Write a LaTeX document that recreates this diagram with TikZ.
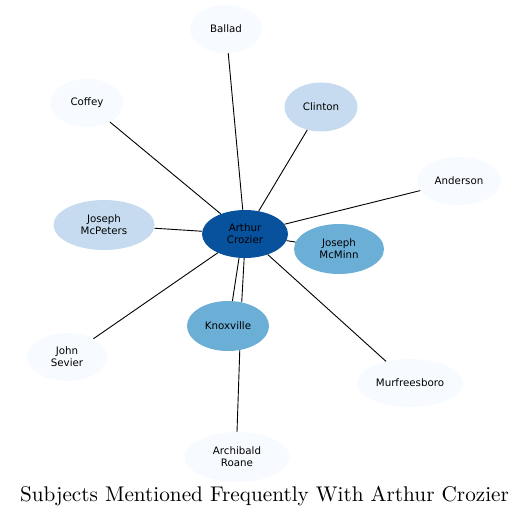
\documentclass[tikz,border=0pt]{standalone}
\usepackage{fontspec}
\usepackage{tikz}
\usetikzlibrary{shapes.geometric}
\newfontfamily\labelfont{DejaVu Sans}
\newfontfamily\titlefont{lmroman10-regular.otf}
\definecolor{paleblue}{HTML}{F7FBFF}
\definecolor{lightblue}{HTML}{C6DBEF}
\definecolor{midblue}{HTML}{6BAED6}
\definecolor{darkblue}{HTML}{08519C}

\begin{document}
\begin{tikzpicture}[x=1bp,y=-1bp,
    subject/.style={ellipse, inner sep=0pt, align=center,
      font=\labelfont\fontsize{10.3}{12}\selectfont},
    link/.style={line width=0.9bp}]
                    \useasboundingbox (0,0) rectangle (529,518);
                    % the subjects
                    \node[subject, fill=darkblue, minimum width=86bp, minimum height=48bp] (crozier) at (245,234) {Arthur\\Crozier};
                    \node[subject, fill=paleblue, minimum width=72bp, minimum height=48bp] (ballad) at (226,29) {Ballad};
                    \node[subject, fill=paleblue, minimum width=73bp, minimum height=48bp] (coffey) at (87,103) {Coffey};
                    \node[subject, fill=lightblue, minimum width=73bp, minimum height=49bp] (clinton) at (321,107) {Clinton};
                    \node[subject, fill=paleblue, minimum width=84bp, minimum height=48bp] (anderson) at (459,181) {Anderson};
                    \node[subject, fill=lightblue, minimum width=101bp, minimum height=50bp] (mcpeters) at (104,225) {Joseph\\McPeters};
                    \node[subject, fill=midblue, minimum width=90bp, minimum height=50bp] (mcminn) at (339,249) {Joseph\\McMinn};
                    \node[subject, fill=midblue, minimum width=82bp, minimum height=50bp] (knoxville) at (228,326) {Knoxville};
                    \node[subject, fill=paleblue, minimum width=80bp, minimum height=48bp] (sevier) at (67,357) {John\\Sevier};
                    \node[subject, fill=paleblue, minimum width=106bp, minimum height=48bp] (murfreesboro) at (410,383) {Murfreesboro};
                    \node[subject, fill=paleblue, minimum width=105bp, minimum height=50bp] (roane) at (237,457) {Archibald\\Roane};
                    % the links
                    \draw[link] (crozier) -- (ballad);
                    \draw[link] (crozier) -- (coffey);
                    \draw[link] (crozier) -- (clinton);
                    \draw[link] (crozier) -- (anderson);
                    \draw[link] (crozier) -- (mcpeters);
                    \draw[link] (crozier) -- (mcminn);
                    \draw[link] (crozier.256) -- (knoxville.80);
                    \draw[link] (crozier.268) -- (knoxville.60);
                    \draw[link] (crozier) -- (sevier);
                    \draw[link] (crozier) -- (murfreesboro);
                    \draw[link] (knoxville.296) -- (roane.90);
                    % the title
                    \node (title) at (264.5,496) {\titlefont\fontsize{21.3}{25}\selectfont Subjects Mentioned Frequently With Arthur Crozier};
                  \end{tikzpicture}
\end{document}
